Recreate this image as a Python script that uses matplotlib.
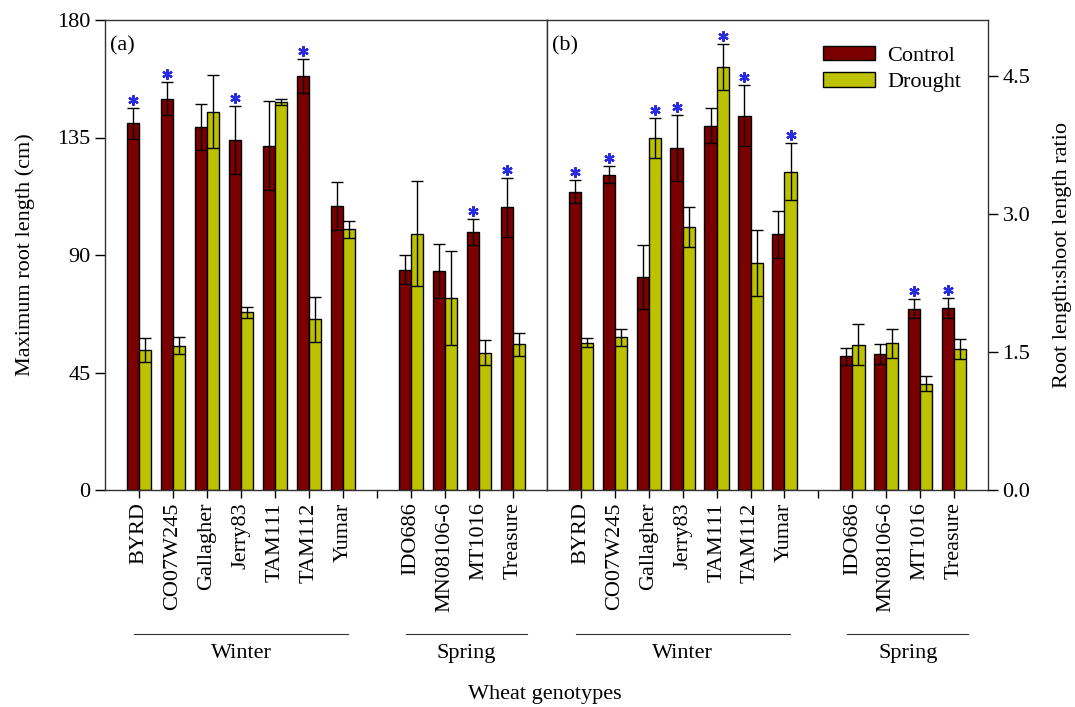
import matplotlib
matplotlib.use("Agg")
import matplotlib.pyplot as plt
import matplotlib.transforms as mtransforms
import numpy as np

plt.rcParams["font.family"] = ["Liberation Serif", "DejaVu Serif"]
plt.rcParams["font.size"] = 16

genotypes = ["BYRD", "CO07W245", "Gallagher", "Jerry83", "TAM111", "TAM112", "Yumar",
             "IDO686", "MN08106-6", "MT1016", "Treasure"]
# x positions: 7 winter, one empty slot, 4 spring
positions = [0, 1, 2, 3, 4, 5, 6, 8, 9, 10, 11]

# (a) maximum root length (cm)
root_ctrl = [140.4, 149.9, 139.0, 134.0, 131.9, 158.6, 108.6, 84.4, 83.9, 98.8, 108.3]
root_ctrl_err = [6.0, 6.2, 8.8, 13.0, 17.0, 6.5, 9.2, 5.5, 10.5, 5.0, 11.3]
root_drt = [53.7, 55.3, 144.8, 68.0, 148.5, 65.4, 99.8, 98.2, 73.7, 52.5, 55.8]
root_drt_err = [4.5, 3.3, 14.0, 2.0, 1.2, 8.7, 3.4, 20.0, 18.0, 4.8, 4.5]
root_ctrl_sig = [1, 1, 0, 1, 0, 1, 0, 0, 0, 1, 1]
root_drt_sig = [0, 0, 0, 0, 0, 0, 0, 0, 0, 0, 0]

# (b) root length : shoot length ratio
ratio_ctrl = [3.245, 3.429, 2.319, 3.718, 3.961, 4.069, 2.778, 1.454, 1.479, 1.971, 1.982]
ratio_ctrl_err = [0.13, 0.09, 0.35, 0.36, 0.19, 0.33, 0.26, 0.09, 0.11, 0.105, 0.11]
ratio_drt = [1.602, 1.660, 3.827, 2.861, 4.597, 2.470, 3.461, 1.581, 1.595, 1.157, 1.530]
ratio_drt_err = [0.05, 0.09, 0.22, 0.22, 0.25, 0.36, 0.31, 0.22, 0.16, 0.08, 0.11]
ratio_ctrl_sig = [1, 1, 0, 1, 0, 1, 0, 0, 0, 1, 1]
ratio_drt_sig = [0, 0, 1, 0, 1, 0, 1, 0, 0, 0, 0]

CTRL_COLOR = "#7a0000"
DRT_COLOR = "#bcc200"
STAR_COLOR = "#2a2ae0"
W, H = 1075, 707
AX_H_PX = 470


def draw_panel(ax, ctrl, ctrl_err, drt, drt_err, ctrl_sig, drt_sig, ymax, label):
    x = np.array(positions, dtype=float)
    bw = 0.36
    ekw = dict(ecolor="black", elinewidth=1.0, capsize=4, capthick=1.0)
    ax.bar(x - bw / 2, ctrl, bw, yerr=ctrl_err, color=CTRL_COLOR, edgecolor="black",
           linewidth=1.0, error_kw=ekw, label="Control", zorder=2)
    ax.bar(x + bw / 2, drt, bw, yerr=drt_err, color=DRT_COLOR, edgecolor="black",
           linewidth=1.0, error_kw=ekw, label="Drought", zorder=2)

    # significance asterisks just above the error caps
    off = ymax * 8 / AX_H_PX
    sx, sy = [], []
    for xi, v, e, s in zip(x, ctrl, ctrl_err, ctrl_sig):
        if s:
            sx.append(xi - bw / 2)
            sy.append(v + e + off)
    for xi, v, e, s in zip(x, drt, drt_err, drt_sig):
        if s:
            sx.append(xi + bw / 2)
            sy.append(v + e + off)
    ax.plot(sx, sy, linestyle="none", marker=(6, 2, 0), markersize=7.5,
            markeredgewidth=1.6, color=STAR_COLOR, zorder=3)

    ax.set_xlim(-1, 12)
    ax.set_ylim(0, ymax)
    ax.set_xticks(positions + [7])
    ax.set_xticklabels(genotypes + [""], rotation=90, fontsize=16)
    ax.tick_params(axis="x", direction="out", length=6, width=1, pad=3)
    for sp in ax.spines.values():
        sp.set_linewidth(1.0)
        sp.set_color("#333333")
    ax.text(0.012, 0.965, label, transform=ax.transAxes, ha="left", va="top", fontsize=16)

    # group lines and labels under the tick labels
    tr = mtransforms.blended_transform_factory(ax.transData, ax.transAxes)
    for x0, x1, name in [(-0.15, 6.15, "Winter"), (7.85, 11.42, "Spring")]:
        ax.plot([x0, x1], [-0.306, -0.306], color="#333333", lw=0.8,
                transform=tr, clip_on=False)
        ax.text((x0 + x1) / 2, -0.328, name, transform=tr, ha="center", va="top",
                fontsize=16)


fig = plt.figure(figsize=(W / 100, H / 100), dpi=100)
ax1 = fig.add_axes([105 / W, (H - 490) / H, 442 / W, AX_H_PX / H])
ax2 = fig.add_axes([547 / W, (H - 490) / H, 441 / W, AX_H_PX / H])

draw_panel(ax1, root_ctrl, root_ctrl_err, root_drt, root_drt_err,
           root_ctrl_sig, root_drt_sig, 180, "(a)")
ax1.set_yticks([0, 45, 90, 135, 180])
ax1.tick_params(axis="y", direction="out", length=7, width=1, labelsize=16)
ax1.set_ylabel("Maximum root length (cm)", fontsize=16, labelpad=16)

draw_panel(ax2, ratio_ctrl, ratio_ctrl_err, ratio_drt, ratio_drt_err,
           ratio_ctrl_sig, ratio_drt_sig, 5.11, "(b)")
ax2.yaxis.tick_right()
ax2.yaxis.set_label_position("right")
ax2.set_yticks([0.0, 1.5, 3.0, 4.5])
ax2.set_yticklabels(["0.0", "1.5", "3.0", "4.5"])
ax2.tick_params(axis="y", direction="out", length=7, width=1, labelsize=16)
ax2.set_ylabel("Root length:shoot length ratio", fontsize=16, labelpad=16)

leg = ax2.legend(loc="upper left", bbox_to_anchor=(0.626, 0.945), frameon=False,
                 fontsize=16, handlelength=2.35, handleheight=0.6,
                 labelspacing=0.3, handletextpad=0.55, borderaxespad=0.0,
                 borderpad=0.0)

fig.text(545 / W, 1 - 695 / H, "Wheat genotypes", ha="center", va="center", fontsize=16)

fig.savefig("out.png", dpi=100)
